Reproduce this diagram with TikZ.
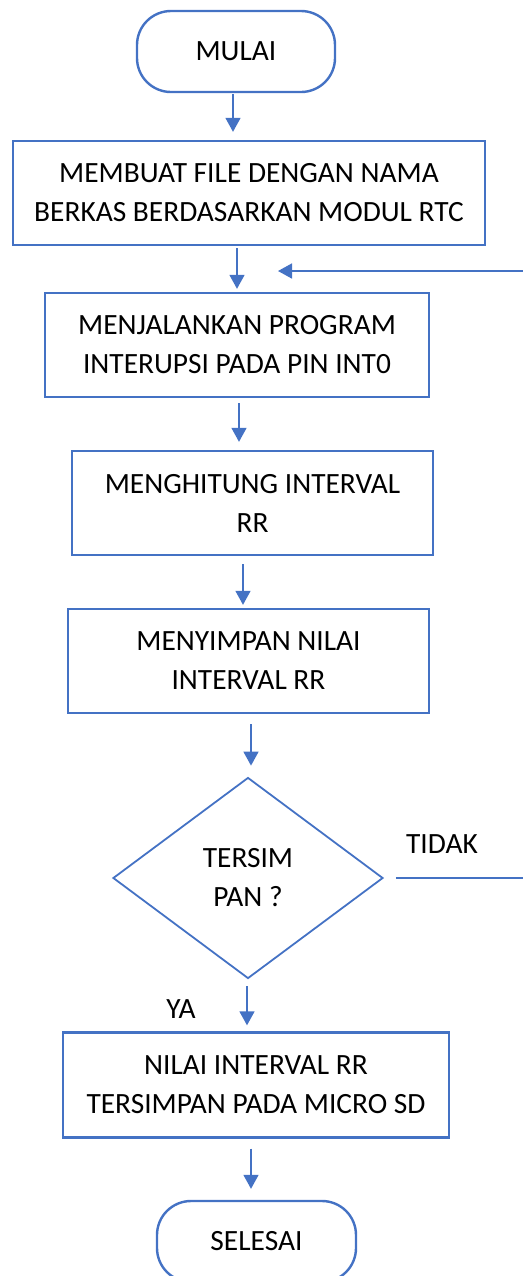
\documentclass[tikz,border=0pt]{standalone}
\usepackage{fontspec}
\setmainfont{Carlito}
\usetikzlibrary{arrows.meta,shapes.geometric}
\definecolor{flowblue}{RGB}{68,114,196}

\begin{document}
\begin{tikzpicture}[x=0.5pt,y=-0.5pt]
            \tikzset{
                every node/.style={font=\fontsize{14.7}{19.5}\selectfont},
                terminal/.style={draw=flowblue, line width=1.2pt, rounded corners=17pt, minimum width=99pt, minimum height=40.5pt},
                process/.style={draw=flowblue, line width=1.2pt, minimum height=52pt, align=center},
                decision/.style={diamond, draw=flowblue, line width=0.9pt, minimum width=135pt, minimum height=100.5pt, inner sep=0pt, align=center},
                edge/.style={-{Triangle[length=7pt,width=7.5pt]}, color=flowblue, line width=0.8pt},
                answer/.style={inner sep=0pt}
            }
            \clip (0,0) rectangle (523,1276);
            % vertices
            \node[terminal] (mulai) at (236,51.5) {MULAI};
            \node[process, minimum width=236pt] (file) at (249,193) {MEMBUAT FILE DENGAN NAMA\\BERKAS BERDASARKAN MODUL RTC};
            \node[process, minimum width=192pt] (interupsi) at (237,345) {MENJALANKAN PROGRAM\\INTERUPSI PADA PIN INT0};
            \node[process, minimum width=180.5pt] (hitung) at (252.5,503) {MENGHITUNG INTERVAL\\RR};
            \node[process, minimum width=180.5pt] (simpan) at (248.5,661) {MENYIMPAN NILAI\\INTERVAL RR};
            \node[decision] (cek) at (248,878) {TERSIM\\PAN ?};
            \node[process, minimum width=193pt, minimum height=52.5pt] (sd) at (256,1085) {NILAI INTERVAL RR\\TERSIMPAN PADA MICRO SD};
            \node[terminal, minimum width=99.5pt] (selesai) at (256.5,1241.5) {SELESAI};
            \node[answer] (tidak) at (442,844) {TIDAK};
            \node[answer] (ya) at (181,1009) {YA};
            \coordinate (loopin) at (523,271);
            \coordinate (loopend) at (278,271);
            \coordinate (loopout) at (523,878);

            %edges
            \draw[edge] ([xshift=-1.5pt,yshift=-0.5pt]mulai.south) -- ([xshift=-8pt,yshift=4pt]file.north);
            \draw[edge] ([xshift=-6pt,yshift=-1pt]file.south) -- ([yshift=1.5pt]interupsi.north);
            \draw[edge] ([xshift=1pt,yshift=-2.5pt]interupsi.south) -- ([xshift=-6.75pt,yshift=4pt]hitung.north);
            \draw[edge] ([xshift=-4.75pt,yshift=-4pt]hitung.south) -- ([xshift=-2.75pt,yshift=1.5pt]simpan.north);
            \draw[edge] ([xshift=1.25pt,yshift=-5pt]simpan.south) -- ([xshift=1.5pt,yshift=5.5pt]cek.north);
            \draw[edge] ([xshift=-0.5pt,yshift=-3.5pt]cek.south) -- ([xshift=-4.5pt,yshift=3pt]sd.north);
            \draw[edge] ([xshift=-2.5pt,yshift=-5pt]sd.south) -- ([xshift=-2.75pt,yshift=5.5pt]selesai.north);
            \draw[edge] (loopin) -- (loopend);
            \draw[color=flowblue, line width=0.8pt] ([xshift=6pt]cek.east) -- (loopout);
\end{tikzpicture}
\end{document}
